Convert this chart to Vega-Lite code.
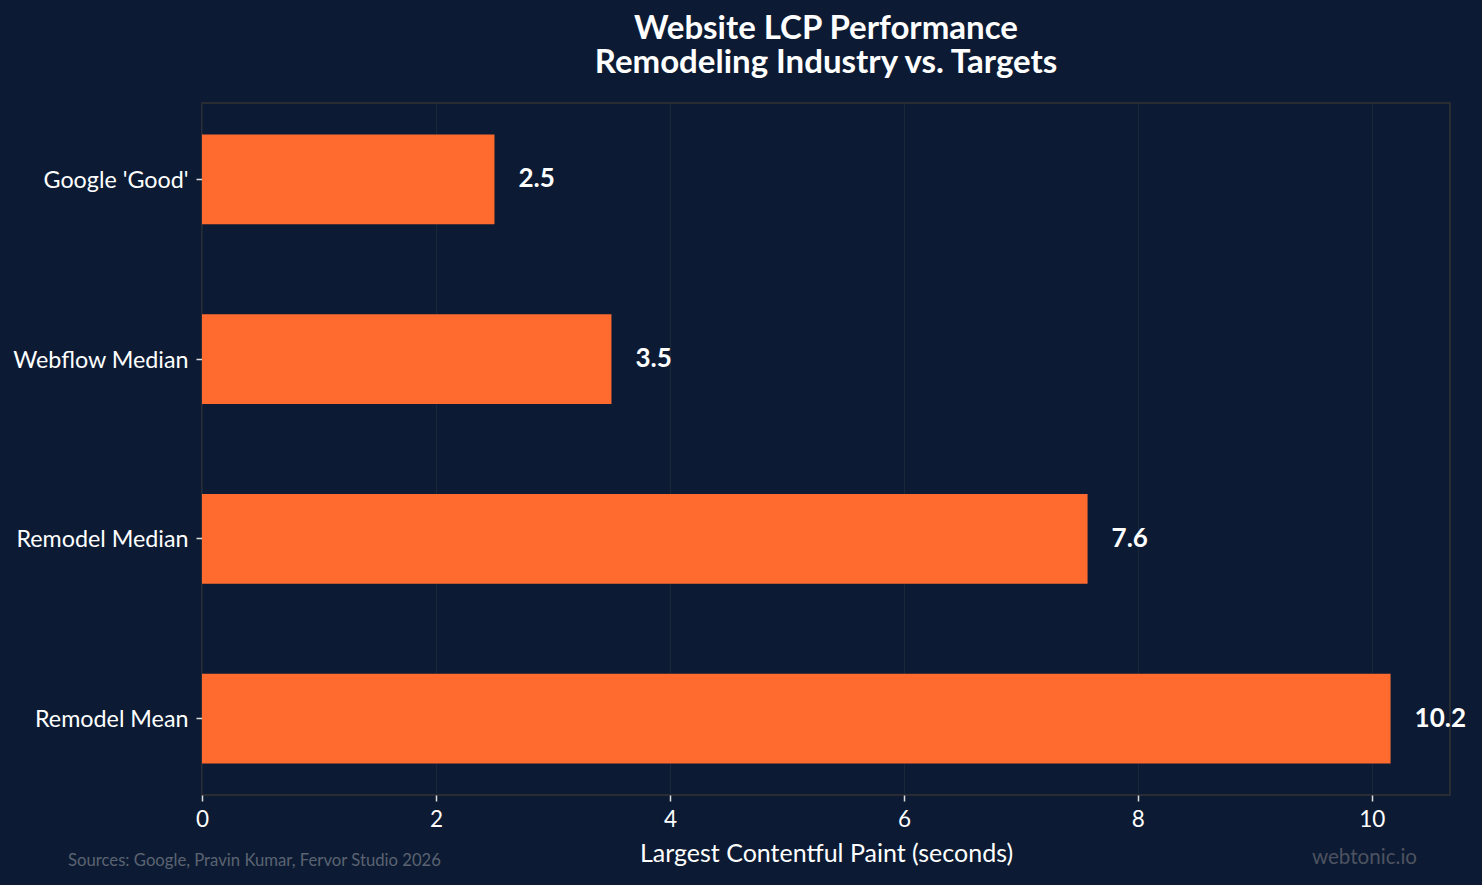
{
  "$schema": "https://vega.github.io/schema/vega-lite/v6.json",
  "width": 1248,
  "height": 692,
  "autosize": {"type": "none"},
  "padding": {"left": 202, "top": 103, "right": 32, "bottom": 90},
  "background": "#0c1b33",
  "config": {
    "font": "Lato",
    "view": {"stroke": "#333333", "strokeWidth": 1.5},
    "axis": {"labelFont": "Lato", "titleFont": "Lato"}
  },
  "title": {
    "text": ["Website LCP Performance", "Remodeling Industry vs. Targets"],
    "anchor": "middle",
    "frame": "group",
    "font": "Lato",
    "fontSize": 33,
    "fontWeight": "bold",
    "color": "#ffffff",
    "lineHeight": 34.5,
    "offset": 23
  },
  "data": {
    "values": [
      {"category": "Google 'Good'", "lcp": 2.5},
      {"category": "Webflow Median", "lcp": 3.5},
      {"category": "Remodel Median", "lcp": 7.57},
      {"category": "Remodel Mean", "lcp": 10.16}
    ]
  },
  "layer": [
    {
      "mark": {"type": "bar", "color": "#ff6b2e"},
      "encoding": {
        "y": {
          "field": "category",
          "type": "nominal",
          "sort": null,
          "scale": {"paddingInner": 0.5, "paddingOuter": 0.175},
          "axis": {
            "title": null,
            "labelColor": "#ffffff",
            "labelFontSize": 23.3,
            "labelPadding": 8,
            "labelOffset": 1.5,
            "tickColor": "#dddddd",
            "tickSize": 6,
            "tickWidth": 1.5,
            "domain": false,
            "grid": false
          }
        },
        "x": {
          "field": "lcp",
          "type": "quantitative",
          "scale": {"domain": [0, 10.668], "nice": false, "zero": true},
          "axis": {
            "title": "Largest Contentful Paint (seconds)",
            "titleColor": "#ffffff",
            "titleFontSize": 25,
            "titleFontWeight": "normal",
            "titlePadding": 11,
            "values": [0, 2, 4, 6, 8, 10],
            "format": "d",
            "labelFlush": false,
            "labelColor": "#ffffff",
            "labelFontSize": 22.5,
            "labelPadding": 7,
            "tickColor": "#dddddd",
            "tickSize": 6,
            "tickWidth": 1.5,
            "domain": false,
            "grid": true,
            "gridColor": "#1b2638",
            "gridWidth": 1
          }
        }
      }
    },
    {
      "mark": {"type": "text", "align": "left", "baseline": "middle", "dx": 24, "fontSize": 26, "fontWeight": "bold", "color": "#ffffff", "font": "Lato"},
      "encoding": {
        "y": {"field": "category", "type": "nominal", "sort": null},
        "x": {"field": "lcp", "type": "quantitative"},
        "text": {"field": "lcp", "type": "quantitative", "format": ".1f"}
      }
    },
    {
      "data": {"values": [{"note": "Sources: Google, Pravin Kumar, Fervor Studio 2026"}]},
      "mark": {"type": "text", "align": "left", "baseline": "alphabetic", "fontSize": 16.7, "color": "#5b6372", "font": "Lato"},
      "encoding": {
        "x": {"value": -134},
        "y": {"value": 763},
        "text": {"field": "note", "type": "nominal"}
      }
    },
    {
      "data": {"values": [{"note": "webtonic.io"}]},
      "mark": {"type": "text", "align": "right", "baseline": "alphabetic", "fontSize": 20.6, "color": "#4d5260", "font": "Lato"},
      "encoding": {
        "x": {"value": 1215},
        "y": {"value": 761},
        "text": {"field": "note", "type": "nominal"}
      }
    }
  ]
}
